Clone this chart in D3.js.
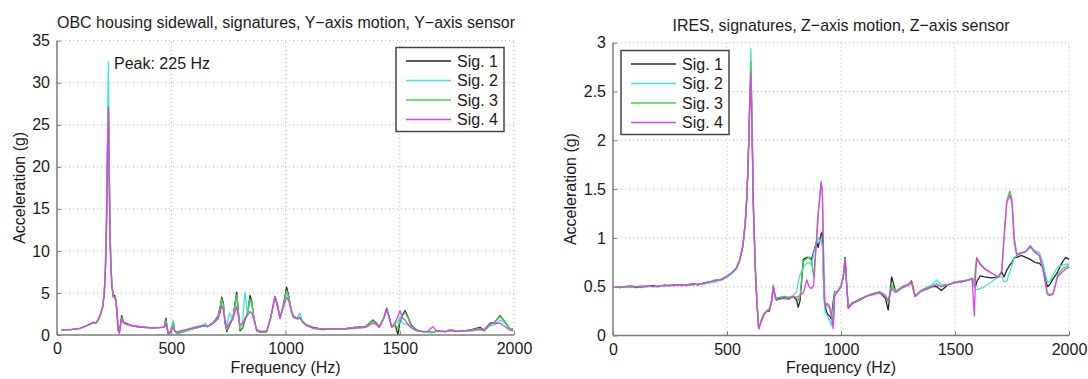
<!DOCTYPE html>
<html>
<head>
<meta charset="utf-8">
<script src="https://cdn.jsdelivr.net/npm/d3@7"></script>
<style>
  body { margin: 0; background: #fff; }
  svg { display: block; font-family: "Liberation Sans", Arial, sans-serif; }
</style>
</head>
<body>
<svg id="chart" width="1088" height="379"></svg>
<script>
// ---- data: left panel (OBC housing sidewall) ----
const freqA = [20, 60, 100, 130, 160, 170, 180, 190, 200, 207, 212, 216, 219, 222, 225, 228, 231, 235, 240, 246, 252, 258, 263, 268, 273, 283, 290, 300, 330, 370, 420, 460, 470, 477, 482, 487, 495, 503, 509, 515, 525, 560, 600, 630, 648, 660, 684, 705, 715, 721, 728, 735, 743, 755, 770, 786, 793, 801, 812, 823, 833, 845, 852, 862, 874, 895, 918, 935, 954, 966, 976, 990, 1005, 1015, 1025, 1034, 1050, 1063, 1075, 1093, 1120, 1160, 1200, 1250, 1300, 1350, 1383, 1395, 1410, 1430, 1443, 1455, 1465, 1480, 1492, 1501, 1512, 1523, 1535, 1550, 1574, 1600, 1620, 1646, 1660, 1700, 1720, 1750, 1780, 1810, 1851, 1870, 1895, 1915, 1939, 1960, 1980, 1996];
const sigA1 = [0.6, 0.65, 0.8, 1.1, 1.5, 1.4, 1.8, 2.4, 3.4, 5, 8, 12.5, 18, 24, 27.3, 21, 14, 9, 6, 4.6, 4.7, 4.2, 2.6, 0.6, 0.3, 2.3, 1.6, 1.4, 1.1, 0.95, 0.85, 0.9, 1.0, 2.0, 0.8, 0.1, 0.3, 1.0, 1.5, 0.5, 0.2, 0.5, 0.8, 1.0, 1.1, 1.0, 1.5, 2.2, 3.5, 4.5, 3.8, 1.5, 0.4, 1.2, 2.0, 5.1, 3.0, 0.5, 0.8, 1.8, 2.5, 4.7, 4.0, 2.0, 0.5, 0.3, 0.4, 2.0, 4.6, 3.5, 2.0, 3.5, 5.7, 4.5, 3.0, 2.3, 2.0, 2.1, 1.6, 1.2, 0.9, 0.7, 0.75, 0.7, 0.9, 1.0, 1.8, 1.5, 1.0, 2.0, 3.2, 2.0, 0.9, 1.2, 0.05, 1.6, 2.4, 2.9, 2.2, 1.2, 0.6, 0.4, 0.4, 0.3, 0.5, 0.4, 0.6, 0.5, 0.5, 0.6, 0.9, 0.6, 1.4, 1.5, 2.3, 1.6, 0.8, 0.7];
const sigA2 = [0.6, 0.65, 0.8, 1.1, 1.5, 1.4, 1.7, 2.4, 3.5, 5.2, 8.5, 13, 19, 27, 32.5, 24, 15, 9.5, 6.2, 4.6, 4.5, 4.0, 2.4, 0.5, 0.3, 2.0, 1.5, 1.3, 1.1, 0.9, 0.85, 0.9, 1.0, 1.6, 0.9, 0.4, 0.3, 0.9, 1.8, 0.6, 0.1, 0.4, 0.8, 1.0, 1.4, 1.0, 1.5, 2.0, 3.2, 4.0, 3.5, 2.0, 1.2, 2.6, 1.8, 4.6, 2.8, 0.8, 1.6, 5.1, 2.5, 4.2, 3.6, 2.0, 0.6, 0.4, 0.5, 2.0, 4.5, 3.3, 2.0, 3.3, 5.2, 4.3, 3.0, 2.2, 2.0, 2.6, 1.6, 1.1, 0.8, 0.65, 0.7, 0.7, 0.8, 0.9, 1.6, 1.4, 0.9, 2.0, 3.0, 1.9, 0.9, 1.4, 1.6, 2.2, 1.4, 1.3, 1.2, 0.8, 0.5, 0.4, 0.3, 0.3, 0.4, 0.4, 0.6, 0.5, 0.5, 0.5, 0.6, 0.5, 1.1, 1.2, 1.8, 1.4, 0.7, 0.6];
const sigA3 = [0.6, 0.65, 0.8, 1.1, 1.5, 1.4, 1.8, 2.4, 3.4, 5, 8, 12.5, 18, 24, 27.2, 21, 14, 9, 6, 4.6, 4.6, 4.1, 2.5, 0.6, 0.3, 2.1, 1.5, 1.3, 1.1, 0.9, 0.85, 0.9, 1.0, 1.8, 0.8, 0.2, 0.3, 1.0, 1.4, 0.5, 0.2, 0.5, 0.8, 1.0, 1.1, 1.0, 1.5, 2.1, 3.3, 4.3, 3.6, 1.6, 0.6, 1.3, 2.0, 4.8, 2.9, 0.6, 0.9, 2.0, 2.4, 4.3, 3.8, 2.0, 0.5, 0.3, 0.4, 2.0, 4.6, 3.4, 2.0, 3.4, 5.3, 4.4, 3.0, 2.2, 2.0, 2.1, 1.6, 1.2, 0.85, 0.7, 0.75, 0.7, 0.9, 1.0, 1.7, 1.4, 1.0, 2.0, 3.1, 2.0, 0.9, 1.2, 0.8, 1.8, 2.3, 2.7, 2.1, 1.1, 0.6, 0.4, 0.4, 0.3, 0.5, 0.4, 0.6, 0.5, 0.5, 0.6, 0.8, 0.6, 1.3, 1.5, 2.2, 1.6, 0.8, 0.7];
const sigA4 = [0.6, 0.65, 0.8, 1.1, 1.5, 1.4, 1.8, 2.4, 3.3, 4.9, 7.8, 12, 17, 23, 27, 20, 13, 8.5, 5.8, 4.5, 4.5, 4.0, 2.4, 0.5, 0.2, 2.0, 1.5, 1.3, 1.1, 0.9, 0.85, 0.9, 0.9, 1.4, 0.8, 0.3, 0.3, 0.6, 0.9, 0.4, 0.4, 0.6, 0.9, 1.1, 1.1, 1.0, 1.4, 1.9, 2.8, 3.5, 3.0, 1.6, 0.9, 1.4, 2.0, 3.4, 2.4, 1.2, 1.3, 2.0, 2.3, 2.8, 2.6, 1.8, 0.6, 0.4, 0.5, 2.1, 4.6, 3.2, 2.0, 3.2, 4.5, 4.0, 2.8, 2.1, 1.9, 2.0, 1.5, 1.1, 0.8, 0.65, 0.7, 0.7, 0.8, 0.9, 1.4, 1.3, 0.9, 2.0, 3.1, 1.9, 0.9, 1.5, 2.2, 2.9, 2.0, 1.8, 1.3, 0.9, 0.5, 0.4, 0.4, 1.0, 0.5, 0.4, 0.5, 0.4, 0.5, 0.5, 0.7, 0.5, 1.3, 1.4, 1.4, 1.0, 0.6, 0.5];

// ---- data: right panel (IRES) ----
const freqB = [10, 30, 50, 75, 100, 125, 150, 175, 200, 225, 250, 275, 300, 325, 350, 375, 400, 425, 450, 475, 500, 520, 540, 555, 570, 580, 588, 595, 600, 605, 610, 616, 624, 631, 639, 650, 662, 674, 686, 696, 703, 710, 716, 730, 750, 770, 790, 806, 812, 820, 835, 850, 860, 871, 880, 893, 900, 907, 913, 918, 922, 926, 930, 940, 950, 958, 966, 972, 985, 1000, 1010, 1018, 1024, 1032, 1050, 1080, 1110, 1140, 1170, 1195, 1207, 1222, 1240, 1270, 1300, 1309, 1318, 1325, 1350, 1380, 1400, 1420, 1440, 1470, 1500, 1530, 1560, 1575, 1585, 1590, 1595, 1610, 1630, 1660, 1690, 1705, 1715, 1727, 1740, 1750, 1760, 1771, 1790, 1810, 1830, 1850, 1870, 1885, 1905, 1915, 1930, 1950, 1970, 1985, 2000];
const sigB1 = [0.50, 0.49, 0.50, 0.50, 0.49, 0.50, 0.50, 0.51, 0.50, 0.51, 0.51, 0.52, 0.51, 0.52, 0.53, 0.52, 0.54, 0.55, 0.56, 0.57, 0.60, 0.64, 0.68, 0.76, 0.92, 1.15, 1.45, 1.95, 2.40, 2.75, 2.10, 1.30, 0.70, 0.35, 0.07, 0.15, 0.22, 0.25, 0.25, 0.36, 0.50, 0.42, 0.37, 0.38, 0.39, 0.38, 0.40, 0.36, 0.29, 0.35, 0.78, 0.80, 0.80, 0.78, 0.86, 0.96, 0.90, 0.98, 1.04, 1.06, 0.70, 0.40, 0.30, 0.22, 0.20, 0.17, 0.35, 0.45, 0.45, 0.50, 0.60, 0.80, 0.55, 0.28, 0.33, 0.36, 0.40, 0.43, 0.44, 0.38, 0.26, 0.60, 0.45, 0.50, 0.53, 0.56, 0.48, 0.40, 0.46, 0.48, 0.50, 0.50, 0.46, 0.52, 0.55, 0.55, 0.57, 0.58, 0.52, 0.50, 0.55, 0.61, 0.60, 0.59, 0.60, 0.65, 0.60, 0.67, 0.72, 0.75, 0.80, 0.80, 0.82, 0.80, 0.78, 0.75, 0.74, 0.70, 0.50, 0.52, 0.58, 0.65, 0.75, 0.80, 0.78];
const sigB2 = [0.49, 0.50, 0.50, 0.49, 0.50, 0.51, 0.50, 0.50, 0.51, 0.50, 0.52, 0.51, 0.52, 0.51, 0.52, 0.53, 0.53, 0.54, 0.55, 0.57, 0.60, 0.63, 0.68, 0.76, 0.93, 1.17, 1.48, 2.00, 2.50, 2.94, 2.20, 1.35, 0.72, 0.36, 0.08, 0.14, 0.21, 0.26, 0.26, 0.35, 0.52, 0.41, 0.38, 0.39, 0.40, 0.39, 0.41, 0.45, 0.55, 0.62, 0.70, 0.74, 0.75, 0.72, 0.84, 0.95, 1.00, 0.96, 0.98, 0.92, 0.60, 0.35, 0.25, 0.20, 0.15, 0.10, 0.30, 0.44, 0.46, 0.52, 0.62, 0.78, 0.58, 0.30, 0.34, 0.36, 0.40, 0.42, 0.45, 0.42, 0.35, 0.50, 0.46, 0.50, 0.52, 0.54, 0.47, 0.41, 0.46, 0.50, 0.52, 0.57, 0.52, 0.52, 0.55, 0.56, 0.57, 0.58, 0.50, 0.47, 0.47, 0.48, 0.50, 0.55, 0.60, 0.60, 0.55, 0.56, 0.65, 0.72, 0.80, 0.82, 0.85, 0.86, 0.90, 0.87, 0.85, 0.75, 0.55, 0.55, 0.62, 0.70, 0.72, 0.73, 0.73];
const sigB3 = [0.50, 0.50, 0.49, 0.50, 0.50, 0.50, 0.51, 0.50, 0.51, 0.51, 0.51, 0.51, 0.52, 0.52, 0.52, 0.53, 0.53, 0.55, 0.56, 0.58, 0.61, 0.64, 0.69, 0.77, 0.92, 1.16, 1.46, 1.96, 2.42, 2.80, 2.12, 1.32, 0.70, 0.35, 0.07, 0.15, 0.22, 0.25, 0.26, 0.36, 0.51, 0.42, 0.38, 0.39, 0.40, 0.39, 0.40, 0.38, 0.36, 0.40, 0.76, 0.79, 0.80, 0.76, 0.60, 0.98, 1.25, 1.45, 1.58, 1.50, 1.00, 0.50, 0.30, 0.30, 0.28, 0.20, 0.12, 0.42, 0.45, 0.50, 0.60, 0.79, 0.56, 0.29, 0.33, 0.37, 0.40, 0.43, 0.45, 0.40, 0.34, 0.52, 0.45, 0.50, 0.53, 0.55, 0.47, 0.40, 0.46, 0.49, 0.51, 0.53, 0.50, 0.52, 0.55, 0.56, 0.57, 0.59, 0.56, 0.70, 0.80, 0.74, 0.69, 0.64, 0.60, 0.66, 1.00, 1.38, 1.48, 1.40, 1.00, 0.84, 0.85, 0.86, 0.91, 0.85, 0.82, 0.70, 0.44, 0.42, 0.43, 0.62, 0.68, 0.70, 0.72];
const sigB4 = [0.50, 0.49, 0.50, 0.51, 0.50, 0.49, 0.51, 0.50, 0.50, 0.52, 0.51, 0.52, 0.52, 0.51, 0.53, 0.52, 0.54, 0.55, 0.57, 0.57, 0.61, 0.64, 0.69, 0.77, 0.92, 1.15, 1.45, 1.94, 2.35, 2.69, 2.05, 1.28, 0.69, 0.34, 0.07, 0.14, 0.21, 0.25, 0.27, 0.36, 0.50, 0.40, 0.36, 0.37, 0.38, 0.37, 0.40, 0.39, 0.40, 0.41, 0.44, 0.57, 0.50, 0.48, 0.52, 1.00, 1.25, 1.40, 1.56, 1.48, 1.00, 0.50, 0.30, 0.33, 0.30, 0.20, 0.07, 0.40, 0.45, 0.50, 0.60, 0.78, 0.54, 0.28, 0.33, 0.37, 0.40, 0.42, 0.44, 0.40, 0.36, 0.48, 0.44, 0.49, 0.52, 0.55, 0.46, 0.40, 0.45, 0.48, 0.50, 0.52, 0.50, 0.52, 0.54, 0.55, 0.57, 0.58, 0.20, 0.60, 0.79, 0.73, 0.68, 0.64, 0.60, 0.66, 1.00, 1.36, 1.44, 1.36, 0.95, 0.82, 0.84, 0.86, 0.92, 0.86, 0.82, 0.68, 0.42, 0.41, 0.42, 0.60, 0.65, 0.68, 0.70];

const sigNames = ['Sig. 1', 'Sig. 2', 'Sig. 3', 'Sig. 4'];
const xTicks = [0, 500, 1000, 1500, 2000];
const yTicksA = [0, 5, 10, 15, 20, 25, 30, 35];
const yTicksB = [0, 0.5, 1, 1.5, 2, 2.5, 3];

const colors = ['#262626', '#3fe3e3', '#3fd63f', '#ea3cea'];
const svg = d3.select('#chart');
const fmt = d3.format('~g');

function drawPanel(p) {
  const x = d3.scaleLinear().domain([0, 2000]).range([p.left, p.right]);
  const y = d3.scaleLinear().domain([0, p.yMax]).range([p.bottom, p.top]);
  const g = svg.append('g');

  // dotted grid
  g.selectAll('.gx').data(xTicks.slice(1)).enter().append('line')
    .attr('x1', d => x(d)).attr('x2', d => x(d))
    .attr('y1', p.bottom).attr('y2', p.top)
    .attr('stroke', '#b0b0b0').attr('stroke-width', 1).attr('stroke-dasharray', '1,3');
  g.selectAll('.gy').data(p.yTicks.slice(1)).enter().append('line')
    .attr('x1', p.left).attr('x2', p.right)
    .attr('y1', d => y(d)).attr('y2', d => y(d))
    .attr('stroke', '#b0b0b0').attr('stroke-width', 1).attr('stroke-dasharray', '1,3');

  // series
  const line = d3.line().x(d => x(d[0])).y(d => y(d[1]));
  p.series.forEach((vals, i) => {
    g.append('path')
      .datum(p.freq.map((f, j) => [f, vals[j]]))
      .attr('d', line)
      .attr('fill', 'none')
      .attr('stroke', colors[i])
      .attr('stroke-width', 1.3)
      .attr('stroke-linejoin', 'round');
  });

  // axes (MATLAB style, ticks inward)
  const xAxis = g.append('g').attr('transform', `translate(0,${p.bottom})`)
    .call(d3.axisBottom(x).tickValues(xTicks).tickFormat(fmt).tickSize(-4).tickPadding(8));
  const yAxis = g.append('g').attr('transform', `translate(${p.left},0)`)
    .call(d3.axisLeft(y).tickValues(p.yTicks).tickFormat(fmt).tickSize(-4).tickPadding(7));
  [xAxis, yAxis].forEach(a => {
    a.select('.domain').attr('stroke', '#7a7a7a').attr('stroke-width', 1.5);
    a.selectAll('.tick line').attr('stroke', '#7a7a7a');
    a.selectAll('.tick text').attr('fill', '#1a1a1a').style('font-size', '16px');
  });
  xAxis.select('.domain').attr('d', `M${p.left},0H${p.right}`);
  yAxis.select('.domain').attr('d', `M0,${p.bottom}V${p.top}`);

  // titles and labels
  g.append('text').attr('x', p.titleX).attr('y', p.titleY)
    .attr('text-anchor', 'middle').attr('fill', '#1a1a1a').style('font-size', p.titleSize)
    .attr('textLength', p.titleLen).attr('lengthAdjust', 'spacingAndGlyphs')
    .text(p.title);
  g.append('text').attr('x', (p.left + p.right) / 2).attr('y', 373)
    .attr('text-anchor', 'middle').attr('fill', '#1a1a1a').style('font-size', '16px')
    .text('Frequency (Hz)');
  g.append('text')
    .attr('transform', `translate(${p.yLabelX},${(p.top + p.bottom) / 2}) rotate(-90)`)
    .attr('text-anchor', 'middle').attr('fill', '#1a1a1a').style('font-size', '16px')
    .text('Acceleration (g)');

  // legend
  const lg = g.append('g').attr('transform', `translate(${p.legX},${p.legY})`);
  lg.append('rect').attr('width', 108).attr('height', 84)
    .attr('fill', '#fff').attr('stroke', '#444').attr('stroke-width', 1.5);
  sigNames.forEach((n, i) => {
    const yy = 13.5 + i * 19.5;
    lg.append('line').attr('x1', 10).attr('x2', 55).attr('y1', yy).attr('y2', yy)
      .attr('stroke', colors[i]).attr('stroke-width', 1.3);
    lg.append('text').attr('x', 61).attr('y', yy + 5.5)
      .attr('fill', '#1a1a1a').style('font-size', '16px').text(n);
  });
  return { x, y, g };
}

const left = drawPanel({
  left: 57, right: 514, top: 40.7, bottom: 335, yMax: 35, yTicks: yTicksA,
  freq: freqA, series: [sigA1, sigA2, sigA3, sigA4],
  title: 'OBC housing sidewall, signatures, Y\u2212axis motion, Y\u2212axis sensor',
  titleX: 286, titleY: 28, titleSize: '16px', titleLen: 458,
  yLabelX: 25, legX: 396, legY: 47.5
});
left.g.append('text').attr('x', 114).attr('y', 69)
  .attr('fill', '#1a1a1a').style('font-size', '16px').text('Peak: 225 Hz');

drawPanel({
  left: 613, right: 1069, top: 42.7, bottom: 335.5, yMax: 3, yTicks: yTicksB,
  freq: freqB, series: [sigB1, sigB2, sigB3, sigB4],
  title: 'IRES, signatures, Z\u2212axis motion, Z\u2212axis sensor',
  titleX: 841, titleY: 31, titleSize: '17px', titleLen: 337,
  yLabelX: 576, legX: 621, legY: 50.5
});
</script>
</body>
</html>
